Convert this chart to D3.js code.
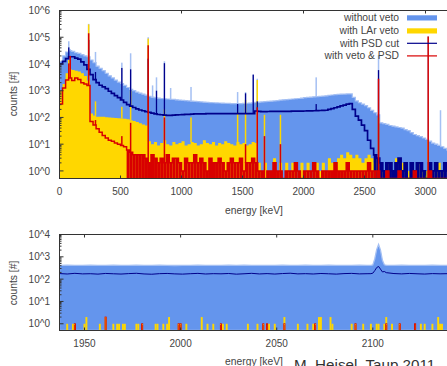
<!DOCTYPE html>
<html>
<head>
<meta charset="utf-8">
<script src="https://cdn.jsdelivr.net/npm/d3@7"></script>
<style>
  body { margin: 0; background: #fff; }
  text { font-family: "Liberation Sans", Arial, sans-serif; fill: #444; }
</style>
</head>
<body>
<svg width="447" height="366"></svg>
<script>
// ---- full spectrum, counts per 25 keV bin
const topBinWidth = 25;
const noVeto = [
  12600, 20000, 28000, 31600, 29500, 26300, 25100, 22400, 20000, 18600,
  14100, 11200, 8300, 6800, 5600, 4500, 3600, 3000, 2500, 2100,
  1860, 1580, 1320, 1120, 1000, 890, 810, 740, 680, 620,
  575, 550, 525, 510, 500, 490, 480, 470, 455, 445,
  435, 425, 415, 405, 400, 390, 380, 372, 365, 360,
  355, 350, 347, 343, 340, 335, 330, 330, 330, 330,
  335, 340, 345, 355, 365, 372, 380, 390, 400, 405,
  415, 425, 445, 455, 465, 480, 490, 500, 510, 525,
  550, 560, 575, 590, 600, 615, 630, 645, 675, 690,
  710, 725, 740, 750, 760, 760, 560, 415, 355, 315,
  275, 230, 185, 150, 125, 63, 59, 55, 50, 47,
  44, 42, 40, 35, 32, 27, 23, 21, 19, 17,
  15, 13, 11, 10, 9, 8, 7, 6
];
const larVeto = [
  1000, 1780, 4500, 6300, 6000, 5600, 5250, 4500, 3550, 2400,
  141, 117, 107, 105, 105, 102, 100, 98, 95, 93,
  91, 89, 85, 79, 74, 68, 60, 55, 50, 13,
  10, 12, 9, 11, 14, 10, 9, 12, 10, 11,
  13, 9, 10, 12, 11, 9, 10, 14, 11, 10,
  12, 9, 11, 10, 13, 11, 10, 9, 12, 10,
  11, 9, 10, 12, 11, 2, 1, 2, 0, 1,
  3, 1, 2, 0, 2, 1, 2, 1, 0, 2,
  1, 2, 0, 1, 2, 1, 2, 1, 3, 2,
  2, 3, 4, 3, 5, 4, 3, 4, 3, 2,
  3, 4, 3, 2, 3, 2, 1, 2, 0, 1,
  3, 1, 2, 0, 1, 2, 1, 0, 2, 1,
  1, 2, 0, 1, 2, 1, 0, 1
];
const psdCut = [
  10000, 12600, 15800, 18600, 18600, 16600, 15100, 12000, 9300, 6300,
  4000, 2600, 2000, 1600, 1380, 1200, 955, 795, 660, 550,
  450, 365, 300, 265, 235, 210, 190, 178, 166, 155,
  145, 135, 129, 126, 123, 120, 120, 123, 125, 126,
  128, 130, 131, 132, 135, 136, 136, 137, 138, 138,
  138, 138, 139, 139, 139, 139, 139, 140, 140, 140,
  140, 140, 140, 140, 174, 168, 166, 166, 167, 168,
  168, 168, 169, 170, 170, 170, 171, 172, 172, 173,
  174, 175, 176, 178, 180, 182, 184, 186, 200, 214,
  230, 250, 270, 290, 316, 330, 200, 112, 80, 52,
  32, 14, 7, 4, 3, 2, 1, 2, 2, 1,
  2, 3, 1, 2, 0, 2, 1, 2, 2, 1,
  0, 2, 1, 2, 1, 1, 2, 1
];
const vetoPsd = [
  320, 1260, 2500, 3000, 2400, 3000, 2600, 2000, 1780, 1580,
  71, 52, 38, 28, 21, 17, 14, 13, 11, 10,
  9, 8, 6, 5, 4, 4, 4, 4, 3, 2,
  4, 3, 2, 3, 2, 4, 2, 3, 3, 2,
  1, 3, 2, 2, 4, 2, 3, 2, 1, 3,
  2, 2, 3, 2, 1, 2, 3, 2, 2, 3,
  1, 2, 2, 3, 2, 1, 1, 0, 1, 1,
  2, 1, 1, 0, 1, 1, 1, 2, 1, 0,
  1, 1, 1, 2, 1, 0, 1, 1, 1, 1,
  2, 1, 1, 1, 2, 1, 1, 1, 1, 1,
  1, 2, 1, 1, 1, 0, 0, 1, 0, 0,
  0, 1, 0, 0, 0, 0, 1, 0, 0, 0,
  0, 1, 0, 0, 0, 0, 0, 0
];

// gamma lines on top of the continuum (peak height, counts)
const peakEnergy  = [76, 88, 239, 295, 511, 583, 727, 763, 795, 860, 911, 1078, 1460, 1525, 1588, 1621, 1680, 1811, 2104, 2615, 3022, 3123];
const peakNoVeto  = [70800, 35500, 316000, 28200, 11200, 25100, 100000, 1580, 3160, 12600, 1260, 1380, 890, 890, 4000, 2800, null, null, 3160, 21400, 107000, 186];
const peakLarVeto = [14100, 8900, 302000, 400, 250, 1000, 89000, null, null, 200, null, 100, 160, 450, null, 2500, 126, 126, null, 100, 14, null];
const peakPsd     = [41700, 20000, 79400, 5000, 7100, 6300, 15800, null, 1000, 10700, null, null, 320, 800, 4000, 400, null, null, 316, 5900, null, null];
const peakVetoPsd = [10500, 20000, 141000, 80, 20, 63, 50100, null, null, 100, null, null, null, 10, null, 240, 20, 10, null, 2800, 107000, null];

// ---- zoom 1937..2140 keV, 1 keV bins
const zoomEnergy = [
  1937, 1941, 1945, 1949, 1953, 1957, 1961, 1965, 1969, 1973, 1977, 1981, 1985, 1989,
  1993, 1997, 2001, 2005, 2009, 2013, 2017, 2021, 2025, 2029, 2033, 2037, 2041, 2045,
  2049, 2053, 2057, 2061, 2065, 2069, 2073, 2077, 2081, 2085, 2089, 2093, 2097,
  2099, 2100, 2101, 2102, 2103, 2104, 2105, 2106, 2107,
  2111, 2115, 2119, 2123, 2127, 2131, 2135, 2139, 2143
];
const zoomNoVeto = [
  415, 420, 412, 418, 422, 410, 416, 419, 413, 417, 421, 411, 414, 420,
  416, 409, 418, 415, 422, 413, 417, 410, 419, 416, 421, 412, 415, 418,
  411, 420, 414, 417, 423, 412, 416, 419, 413, 418, 415, 421, 414,
  418, 430, 800, 2100, 3600, 2000, 700, 440, 420,
  416, 420, 413, 418, 415, 421, 412, 417, 415
];
const zoomPsd = [
  178, 170, 182, 172, 175, 168, 180, 174, 169, 177, 183, 171, 166, 176,
  180, 172, 168, 175, 181, 170, 176, 173, 179, 167, 174, 182, 171, 177,
  169, 178, 184, 172, 176, 170, 179, 174, 168, 177, 181, 172, 175,
  176, 185, 240, 330, 370, 280, 210, 220, 195,
  178, 172, 180, 174, 169, 177, 173, 176, 174
];
const zoomLarVeto = [
  [1941, 1], [1944, 1], [1945, 1], [1950, 1], [1951, 2], [1958, 1], [1961, 2], [1965, 1],
  [1967, 1], [1968, 1], [1970, 1], [1971, 1], [1977, 1], [1978, 1], [1980, 1], [1987, 1],
  [1988, 1], [1991, 1], [1993, 1], [1994, 2], [1999, 1], [2000, 1], [2003, 1], [2011, 2],
  [2014, 1], [2017, 1], [2021, 1], [2022, 1], [2024, 1], [2035, 1], [2040, 1], [2043, 1],
  [2045, 1], [2046, 1], [2049, 1], [2054, 2], [2061, 1], [2066, 1], [2069, 1], [2070, 1],
  [2072, 2], [2073, 2], [2078, 2], [2079, 1], [2089, 1], [2091, 1], [2095, 1], [2099, 1],
  [2102, 1], [2103, 1], [2106, 1], [2107, 2], [2110, 1], [2114, 1], [2122, 1], [2125, 1],
  [2127, 1], [2131, 1], [2134, 2], [2135, 1], [2136, 1]
];
const zoomVetoPsd = [
  [1945, 1], [1961, 2], [1980, 1], [1999, 1], [2000, 1], [2021, 1], [2043, 1], [2045, 1],
  [2054, 1], [2070, 1], [2091, 1], [2107, 1], [2114, 1], [2122, 1]
];

const topTicksX = [0, 500, 1000, 1500, 2000, 2500, 3000];
const topTicksY = [1, 10, 100, 1e3, 1e4, 1e5, 1e6];
const zoomTicksX = [1950, 2000, 2050, 2100];
const zoomTicksY = [1, 10, 100, 1e3, 1e4];
const legendLabels = ["without veto", "with LAr veto", "with PSD cut", "with veto & PSD"];

const col = {
  noVeto: "#6495ed", noVetoLight: "#a5c0f3", lar: "#ffd700",
  psd: "#00008b", vetoPsd: "#d80000", frame: "#333"
};

const svg = d3.select("svg");

function logTicks(g, y, x0, decades, len, lenMinor) {
  decades.forEach(d => {
    g.append("line").attr("x1", x0).attr("x2", x0 + len)
      .attr("y1", y(d)).attr("y2", y(d)).attr("stroke", col.frame);
    if (d < decades[decades.length - 1]) {
      for (let k = 2; k < 10; k++) {
        g.append("line").attr("x1", x0).attr("x2", x0 + lenMinor)
          .attr("y1", y(d * k)).attr("y2", y(d * k)).attr("stroke", col.frame);
      }
    }
  });
}

// ================= top panel =================
const x = d3.scaleLinear().domain([0, 3200]).range([59.5, 449.9]);
const y = d3.scaleLog().domain([0.52, 1e6]).range([178.5, 10.5]);
const yBot = y.range()[0];
const yOf = v => v > 0 ? y(v) : yBot;

const edges = noVeto.map((d, i) => i * topBinWidth);
const pts = vals => vals.map((v, i) => [edges[i], v])
  .concat([[vals.length * topBinWidth, vals[vals.length - 1]]]);
const contAt = (vals, e) => vals[Math.min(vals.length - 1, Math.floor(e / topBinWidth))];

svg.append("clipPath").attr("id", "clipTop").append("rect")
  .attr("x", 59.5).attr("y", 10.5).attr("width", 391).attr("height", 168);
const plot = svg.append("g").attr("clip-path", "url(#clipTop)");

const area = d3.area().curve(d3.curveStepAfter)
  .x(d => x(d[0])).y0(yBot).y1(d => yOf(d[1]));
const line = d3.line().curve(d3.curveStepAfter)
  .x(d => x(d[0])).y(d => yOf(d[1]));

function spikes(vals, peaks, color, w) {
  plot.append("g").selectAll("rect")
    .data(peakEnergy.map((e, i) => [e, peaks[i]]).filter(d => d[1] != null))
    .enter().append("rect")
    .attr("x", d => x(d[0]) - w / 2)
    .attr("width", w)
    .attr("y", d => yOf(d[1]))
    .attr("height", d => Math.max(0, yOf(contAt(vals, d[0])) - yOf(d[1])))
    .attr("fill", color);
}

function lowBars(vals, color) {
  plot.append("g").selectAll("rect")
    .data(vals.map((v, i) => [edges[i], v]).filter(d => d[1] > 0 && d[1] <= 6))
    .enter().append("rect")
    .attr("x", d => x(d[0]))
    .attr("width", x(topBinWidth) - x(0))
    .attr("y", d => yOf(d[1]))
    .attr("height", d => yBot - yOf(d[1]))
    .attr("fill", color);
}

plot.append("path").datum(pts(noVeto)).attr("d", area)
  .attr("fill", col.noVeto).attr("stroke", col.noVetoLight).attr("stroke-width", 1.2);
spikes(noVeto, peakNoVeto, col.noVetoLight, 1.5);

plot.append("path").datum(pts(larVeto)).attr("d", area).attr("fill", col.lar);
spikes(larVeto, peakLarVeto, col.lar, 1.5);

lowBars(psdCut, col.psd);
plot.append("path").datum(pts(psdCut)).attr("d", line)
  .attr("fill", "none").attr("stroke", col.psd).attr("stroke-width", 1.7);
spikes(psdCut, peakPsd, col.psd, 1.3);

lowBars(vetoPsd, col.vetoPsd);
plot.append("path").datum(pts(vetoPsd)).attr("d", line)
  .attr("fill", "none").attr("stroke", col.vetoPsd).attr("stroke-width", 1.5);
spikes(vetoPsd, peakVetoPsd, col.vetoPsd, 1.5);

// frame and ticks
const topAxes = svg.append("g");
topAxes.append("rect").attr("x", 59.5).attr("y", 10.5).attr("width", 391).attr("height", 168)
  .attr("fill", "none").attr("stroke", col.frame);
logTicks(topAxes, y, 59.5, topTicksY, 4, 2);
topTicksX.forEach(t => {
  topAxes.append("line").attr("x1", x(t)).attr("x2", x(t)).attr("y1", 178.5).attr("y2", 175.5).attr("stroke", col.frame);
  if (t % 1000 === 0) topAxes.append("line").attr("x1", x(t)).attr("x2", x(t)).attr("y1", 10.5).attr("y2", 13.5).attr("stroke", col.frame);
});
topAxes.selectAll(".ty").data(topTicksY).enter().append("text")
  .attr("x", 50).attr("y", d => y(d) + 3.6).attr("text-anchor", "end")
  .style("font-size", "10px").text(d => "10^" + Math.round(Math.log10(d)));
topAxes.selectAll(".tx").data(topTicksX).enter().append("text")
  .attr("x", d => x(d)).attr("y", 194.5).attr("text-anchor", "middle")
  .style("font-size", "10px").text(d => d);
topAxes.append("text").attr("transform", "translate(16.5,94) rotate(-90)")
  .attr("text-anchor", "middle").style("font-size", "10.3px").text("counts [#]");
topAxes.append("text").attr("x", 254).attr("y", 214).attr("text-anchor", "middle")
  .style("font-size", "10.3px").text("energy [keV]");

// legend
const legBase = [21, 34, 46.7, 59.3];
const legColor = [col.noVeto, col.lar, col.psd, col.vetoPsd];
const legend = svg.append("g");
legendLabels.forEach((lab, i) => {
  legend.append("text").attr("x", 399).attr("y", legBase[i]).attr("text-anchor", "end")
    .style("font-size", "10.3px").text(lab);
  if (i < 2) {
    legend.append("rect").attr("x", 407).attr("y", legBase[i] - 5.7).attr("width", 30).attr("height", 5.2)
      .attr("fill", legColor[i]);
  } else {
    legend.append("line").attr("x1", 407).attr("x2", 437)
      .attr("y1", legBase[i] - 3.4).attr("y2", legBase[i] - 3.4)
      .attr("stroke", legColor[i]).attr("stroke-width", 1.2);
  }
});

// ================= zoom panel =================
const xb = d3.scaleLinear().domain([1937, 2140]).range([59.5, 449.7]);
const yb = d3.scaleLog().domain([0.5, 1e4]).range([330.5, 234.5]);
const ybBot = yb.range()[0];

svg.append("clipPath").attr("id", "clipBot").append("rect")
  .attr("x", 59.5).attr("y", 234.5).attr("width", 391).attr("height", 96);
const plotB = svg.append("g").attr("clip-path", "url(#clipBot)");

const zPts = vals => zoomEnergy.map((e, i) => [e, vals[i]]);
plotB.append("path").datum(zPts(zoomNoVeto))
  .attr("d", d3.area().x(d => xb(d[0])).y0(ybBot).y1(d => yb(d[1])))
  .attr("fill", col.noVeto).attr("stroke", col.noVetoLight).attr("stroke-width", 1.3);

plotB.append("g").selectAll("rect").data(zoomLarVeto).enter().append("rect")
  .attr("x", d => xb(d[0] - 0.5)).attr("width", xb(1) - xb(0))
  .attr("y", d => yb(d[1])).attr("height", d => ybBot - yb(d[1]))
  .attr("fill", col.lar);

plotB.append("path").datum(zPts(zoomPsd))
  .attr("d", d3.line().x(d => xb(d[0])).y(d => yb(d[1])))
  .attr("fill", "none").attr("stroke", col.psd).attr("stroke-width", 1);

plotB.append("g").selectAll("rect").data(zoomVetoPsd).enter().append("rect")
  .attr("x", d => xb(d[0] - 0.5) + 0.4).attr("width", xb(1) - xb(0) - 0.8)
  .attr("y", d => yb(d[1])).attr("height", d => ybBot - yb(d[1]) + 2)
  .attr("fill", "none").attr("stroke", col.vetoPsd).attr("stroke-width", 0.9);

const botAxes = svg.append("g");
botAxes.append("rect").attr("x", 59.5).attr("y", 234.5).attr("width", 391).attr("height", 96)
  .attr("fill", "none").attr("stroke", col.frame);
logTicks(botAxes, yb, 59.5, zoomTicksY, 4, 2);
zoomTicksX.forEach(t => {
  botAxes.append("line").attr("x1", xb(t)).attr("x2", xb(t)).attr("y1", 234.5).attr("y2", 237.5).attr("stroke", col.frame);
  botAxes.append("line").attr("x1", xb(t)).attr("x2", xb(t)).attr("y1", 330.5).attr("y2", 327.5).attr("stroke", col.frame);
});
botAxes.selectAll(".ty").data(zoomTicksY).enter().append("text")
  .attr("x", 50).attr("y", d => yb(d) + 3.6).attr("text-anchor", "end")
  .style("font-size", "10px").text(d => "10^" + Math.round(Math.log10(d)));
botAxes.selectAll(".tx").data(zoomTicksX).enter().append("text")
  .attr("x", d => xb(d)).attr("y", 346.7).attr("text-anchor", "middle")
  .style("font-size", "10px").text(d => d);
botAxes.append("text").attr("transform", "translate(16.5,283) rotate(-90)")
  .attr("text-anchor", "middle").style("font-size", "10.3px").text("counts [#]");
botAxes.append("text").attr("x", 254).attr("y", 364.5).attr("text-anchor", "middle")
  .style("font-size", "10.3px").text("energy [keV]");

svg.append("text").attr("x", 294).attr("y", 369.5)
  .style("font-size", "15.2px").style("fill", "#333").text("M. Heisel, Taup 2011");
</script>
</body>
</html>
